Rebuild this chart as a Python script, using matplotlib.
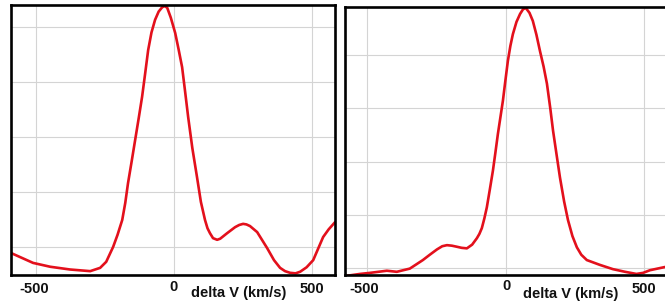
import matplotlib
matplotlib.use("Agg")
import matplotlib.pyplot as plt

plt.rcParams['font.family'] = ['Liberation Sans', 'DejaVu Sans']

# left profile (velocity km/s, relative flux)
v_left = [-591, -551, -511, -449, -377, -304, -268, -246, -221, -205, -188, -177,
          -167, -154, -141, -128, -116, -105, -94, -82, -69, -56, -43, -34, -25,
          -12, 4, 16, 29, 40, 51, 66, 83, 97, 112, 121, 130, 141, 156, 167, 192,
          221, 236, 250, 262, 275, 301, 337, 362, 384, 402, 420, 440, 457, 480,
          504, 522, 540, 560, 583]
f_left = [-0.11, -0.20, -0.29, -0.36, -0.41, -0.44, -0.38, -0.27, 0.0, 0.22, 0.49,
          0.80, 1.16, 1.55, 1.95, 2.35, 2.73, 3.15, 3.58, 3.90, 4.13, 4.28, 4.36,
          4.38, 4.35, 4.17, 3.89, 3.60, 3.27, 2.82, 2.36, 1.80, 1.27, 0.82, 0.49,
          0.34, 0.25, 0.16, 0.13, 0.15, 0.25, 0.36, 0.40, 0.42, 0.41, 0.38, 0.27,
          -0.02, -0.24, -0.38, -0.44, -0.47, -0.48, -0.45, -0.37, -0.24, -0.03,
          0.18, 0.32, 0.45]

# right profile
v_right = [-581, -527, -491, -430, -394, -347, -300, -275, -249, -230, -213, -195,
           -177, -160, -141, -122, -105, -96, -87, -78, -69, -58, -47, -38, -29,
           -20, -11, -2, 7, 16, 25, 38, 51, 62, 72, 85, 97, 110, 123, 136, 148,
           160, 170, 183, 195, 210, 224, 240, 256, 272, 292, 339, 386, 430, 471,
           495, 520, 574]
f_right = [-0.15, -0.11, -0.09, -0.05, -0.07, -0.01, 0.15, 0.25, 0.35, 0.41, 0.43,
           0.42, 0.40, 0.38, 0.37, 0.44, 0.56, 0.64, 0.75, 0.93, 1.14, 1.48, 1.83,
           2.17, 2.52, 2.83, 3.14, 3.52, 3.89, 4.17, 4.39, 4.62, 4.77, 4.86, 4.88,
           4.79, 4.64, 4.38, 4.07, 3.78, 3.46, 3.00, 2.58, 2.12, 1.70, 1.25, 0.90,
           0.60, 0.39, 0.25, 0.15, 0.06, -0.02, -0.07, -0.11, -0.09, -0.04, 0.02]

xticks = [-500, 0, 500]
xtick_labels = ['-500', '0', '500']
xlabel = 'delta V (km/s)'

W, H = 665, 306
fig = plt.figure(figsize=(W / 100, H / 100), dpi=100)


def px_axes(x0, x1, y0, y1):
    return fig.add_axes([x0 / W, (H - y1) / H, (x1 - x0) / W, (y1 - y0) / H])


panels = [
    # axes box px, limits, tick label spots (x px, baseline px), xlabel spot
    dict(box=(11, 335, 5, 275), xlim=(-591, 583), ylim=(-0.51, 4.40), v=v_left, f=f_left,
         tl=[(34, 293), (173.5, 291), (311.5, 293)], xl=(239, 297)),
    dict(box=(345, 668, 7, 275), xlim=(-581, 585), ylim=(-0.13, 4.90), v=v_right, f=f_right,
         tl=[(364, 293), (506.5, 290), (643.5, 293)], xl=(571, 298)),
]

for p in panels:
    ax = px_axes(*p['box'])
    ax.plot(p['v'], p['f'], color='#e3101c', lw=1.9,
            solid_joinstyle='round', solid_capstyle='round')
    ax.set_xlim(*p['xlim'])
    ax.set_ylim(*p['ylim'])
    ax.set_xticks(xticks)
    ax.set_yticks([0, 1, 2, 3, 4])
    ax.tick_params(length=0, labelbottom=False, labelleft=False)
    ax.grid(True, color='#d4d4d4', lw=0.8)
    ax.set_axisbelow(True)
    for s in ax.spines.values():
        s.set_linewidth(1.9)
        s.set_color('black')
    for lab, (xp, yp) in zip(xtick_labels, p['tl']):
        fig.text(xp / W, (H - yp) / H, lab, ha='center', va='baseline',
                 fontsize=10.5, fontweight='bold', color='#111111')
    fig.text(p['xl'][0] / W, (H - p['xl'][1]) / H, xlabel, ha='center', va='baseline',
             fontsize=10.5, fontweight='bold', color='#111111')

fig.savefig('out.png', dpi=100)
